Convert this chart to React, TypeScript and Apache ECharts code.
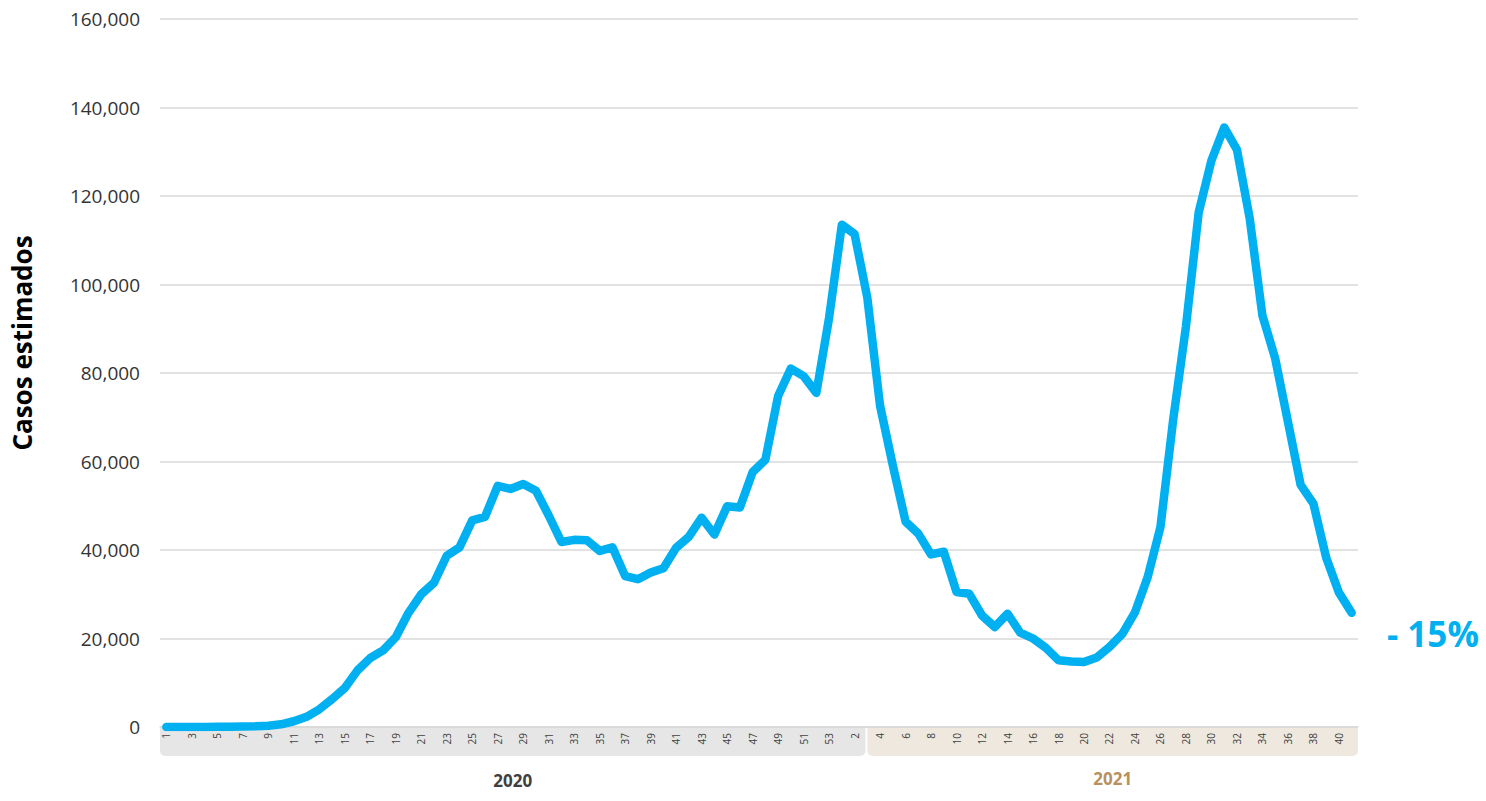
import React, { useEffect, useRef } from "react";
import * as echarts from "echarts";

const weeks2020: string[] = Array.from({ length: 53 }, (_, i) => String(i + 1));
const weeks2021: string[] = Array.from({ length: 41 }, (_, i) => String(i + 1));

const cases2020: number[] = [
  0, 0, 0, 0, 50, 80, 100, 150, 300, 600,
  1300, 2300, 4000, 6300, 8800, 12800, 15600, 17300, 20300, 25800,
  30000, 32600, 38700, 40600, 46700, 47500, 54500, 53800, 54900, 53400,
  47800, 41800, 42300, 42200, 39800, 40600, 34100, 33400, 34900, 35900,
  40500, 43000, 47300, 43500, 49900, 49600, 57600, 60400, 74800, 81000,
  79300, 75500, 92500,
];
const cases2021: number[] = [
  113500, 111400, 97000, 72600, 59100, 46400, 43700, 39000, 39600, 30500,
  30100, 25200, 22600, 25600, 21300, 20000, 17900, 15100, 14800, 14700,
  15700, 18100, 21000, 25900, 33900, 45200, 69500, 90500, 116300, 128000,
  135500, 130500, 115000, 93000, 83300, 69000, 54700, 50500, 38300, 30400,
  25800,
];

const yearLabels = ["2020", "2021"];
const yAxisTitle = "Casos estimados";
const changeLabel = "- 15%";

const FONT = '"Open Sans", "Noto Sans", sans-serif';

export default function App() {
  const ref = useRef<HTMLDivElement>(null);

  useEffect(() => {
    document.body.style.margin = "0";
    if (!ref.current) return;
    const chart = echarts.init(ref.current, null, { renderer: "svg" });
    const categories = [...weeks2020, ...weeks2021];
    const values = [...cases2020, ...cases2021];

    chart.setOption({
      animation: false,
      backgroundColor: "#ffffff",
      grid: { left: 160, right: 128, top: 19, bottom: 74, containLabel: false },
      xAxis: {
        type: "category",
        data: categories,
        boundaryGap: true,
        axisLine: { show: true, lineStyle: { color: "#d9d9d9", width: 1.5 } },
        axisTick: { show: false },
        axisLabel: {
          interval: 1,
          rotate: 90,
          fontSize: 10,
          color: "#404040",
          fontFamily: FONT,
          margin: 6,
        },
      },
      yAxis: {
        type: "value",
        min: 0,
        max: 160000,
        interval: 20000,
        axisLine: { show: false },
        axisTick: { show: false },
        splitLine: { lineStyle: { color: "#d9d9d9", width: 1.5 } },
        axisLabel: {
          fontSize: 19,
          color: "#333333",
          fontFamily: FONT,
          margin: 20,
          formatter: (v: number) => v.toLocaleString("en-US"),
        },
      },
      series: [
        {
          type: "line",
          data: values,
          symbol: "none",
          lineStyle: { color: "#00B0F0", width: 8.5, cap: "round", join: "round" },
          z: 5,
        },
      ],
    });

    const px = (i: number) => chart.convertToPixel({ xAxisIndex: 0 }, i) as number;
    const step = px(1) - px(0);
    const n = values.length;
    const splitIdx = 54;
    const grayL = px(0) - step / 2;
    const grayR = px(splitIdx) + step * 0.85;
    const beigeL = px(splitIdx) + step * 1.0;
    const beigeR = px(n - 1) + step / 2;
    const bandTop = 727;
    const bandH = 29;
    const lastY = chart.convertToPixel({ yAxisIndex: 0 }, values[n - 1]) as number;

    chart.setOption({
      graphic: [
        {
          type: "rect",
          z: -10,
          shape: { x: grayL, y: bandTop, width: grayR - grayL, height: bandH, r: [0, 0, 5, 5] },
          style: { fill: "#e6e6e6" },
        },
        {
          type: "rect",
          z: -10,
          shape: { x: beigeL, y: bandTop, width: beigeR - beigeL, height: bandH, r: [0, 0, 5, 5] },
          style: { fill: "#efe8de" },
        },
        {
          type: "text",
          x: (grayL + grayR) / 2,
          y: 780,
          style: {
            text: yearLabels[0],
            font: `bold 17px ${FONT}`,
            fill: "#404040",
            textAlign: "center",
            textVerticalAlign: "middle",
            align: "center",
            verticalAlign: "middle",
          },
        },
        {
          type: "text",
          x: (beigeL + beigeR) / 2,
          y: 778,
          style: {
            text: yearLabels[1],
            font: `bold 17px ${FONT}`,
            fill: "#b8915f",
            textAlign: "center",
            textVerticalAlign: "middle",
            align: "center",
            verticalAlign: "middle",
          },
        },
        {
          type: "text",
          x: 22,
          y: 343,
          rotation: Math.PI / 2,
          style: {
            text: yAxisTitle,
            font: `bold 26px ${FONT}`,
            fill: "#000000",
            textAlign: "center",
            textVerticalAlign: "middle",
            align: "center",
            verticalAlign: "middle",
          },
        },
        {
          type: "text",
          x: 1387,
          y: lastY + 21,
          style: {
            text: changeLabel,
            font: `bold 35px ${FONT}`,
            fill: "#00B0F0",
            textAlign: "left",
            textVerticalAlign: "middle",
            align: "left",
            verticalAlign: "middle",
          },
        },
      ],
    });

    return () => chart.dispose();
  }, []);

  return <div ref={ref} style={{ width: 1486, height: 801 }} />;
}
